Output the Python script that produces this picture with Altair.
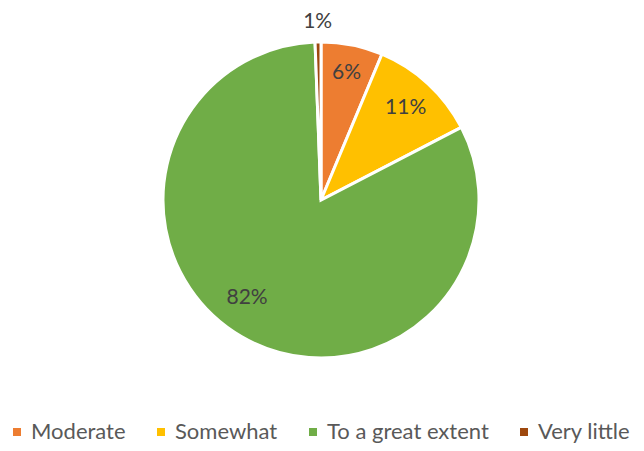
import altair as alt
import pandas as pd

categories = ["Moderate", "Somewhat", "To a great extent", "Very little"]
values = [6.3, 11.1, 82.0, 0.6]
labels = ["6%", "11%", "82%", "1%"]
colors = ["#ED7D31", "#FFC000", "#70AD47", "#9E480E"]

df = pd.DataFrame({
    "category": categories,
    "value": values,
    "label": labels,
    "idx": list(range(len(categories))),
})

CX, CY = 313, 192

pie = alt.Chart(df).mark_arc(outerRadius=158, stroke="white", strokeWidth=3).encode(
    theta=alt.Theta("value:Q", stack=True),
    order=alt.Order("idx:Q"),
    x=alt.value(CX),
    y=alt.value(CY),
    color=alt.Color(
        "category:N",
        scale=alt.Scale(domain=categories, range=colors),
        legend=alt.Legend(
            title=None,
            orient="none",
            direction="horizontal",
            legendX=-2,
            legendY=413,
            padding=0,
            symbolType="square",
            symbolSize=64,
            symbolStrokeWidth=0,
            labelFont="Lato",
            labelFontSize=22,
            labelColor="#595959",
            labelOffset=3,
            columnPadding=24,
            labelLimit=300,
        ),
    ),
)

text_style = dict(font="Lato", fontSize=21, color="#404040")

label_base = (
    alt.Chart(df)
    .transform_joinaggregate(total="sum(value)")
    .transform_window(cum="sum(value)", sort=[alt.SortField("idx")], frame=[None, 0])
    .transform_calculate(frac="(datum.cum - datum.value / 2) / datum.total")
)


def label_layer(cat, radius, dx=0, dy=0):
    return (
        label_base.transform_filter(alt.FieldEqualPredicate(field="category", equal=cat))
        .mark_text(radius=radius, xOffset=dx, yOffset=dy, **text_style)
        .encode(
            theta=alt.Theta("frac:Q", scale=alt.Scale(domain=[0, 1], nice=False, zero=True)),
            x=alt.value(CX),
            y=alt.value(CY),
            text="label:N",
        )
    )


layers = [
    pie,
    label_layer("Moderate", 130),
    label_layer("Somewhat", 125),
    label_layer("To a great extent", 123, -12, -8),
    label_layer("Very little", 178),
]

chart = (
    alt.layer(*layers)
    .resolve_scale(theta="independent")
    .properties(width=628, height=435, padding=0, autosize=alt.AutoSizeParams(type="none"))
    .configure_view(stroke=None)
)

chart.save("out.html", embed_options={"renderer": "svg", "actions": False})
